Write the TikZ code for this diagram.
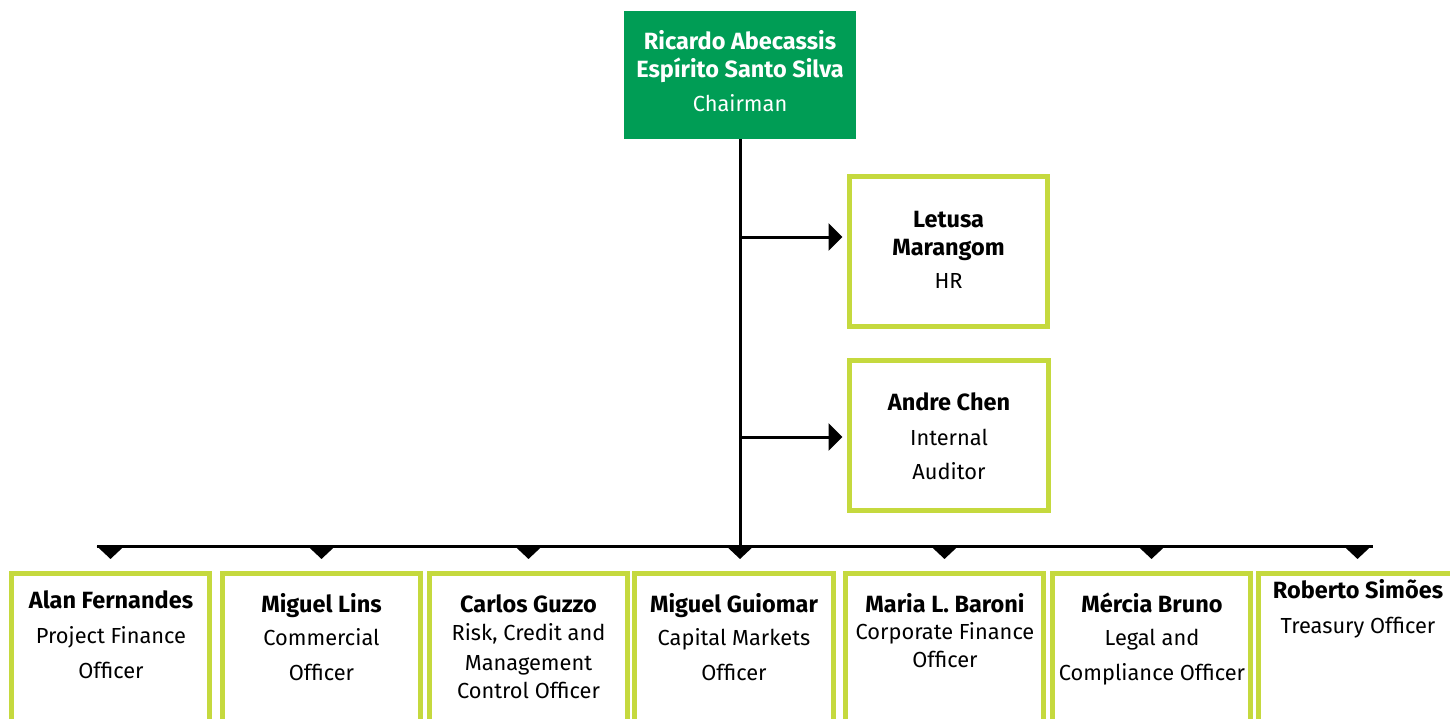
\documentclass[tikz,border=0pt]{standalone}
\usepackage{fontspec}
\setmainfont{Fira Sans}
\usetikzlibrary{arrows.meta}

\definecolor{chairgreen}{RGB}{0,157,85}
\definecolor{limeline}{RGB}{197,217,62}

\tikzset{
  chairbox/.style={fill=chairgreen, draw=none, minimum width=232pt, minimum height=128pt, inner sep=0pt},
  unitbox/.style={draw=limeline, line width=5pt, minimum width=198pt, minimum height=150pt, inner sep=0pt},
  deptbox/.style={draw=limeline, line width=5pt, minimum width=198pt, minimum height=200pt, inner sep=0pt, anchor=north},
  who/.style={anchor=base, inner sep=0pt, font=\fontsize{23.5}{27}\selectfont\bfseries},
  role/.style={anchor=base, inner sep=0pt, font=\fontsize{21.8}{26}\selectfont},
  link/.style={line width=3pt, black},
  sidearrow/.style={link, -{Triangle[length=14pt, width=27pt]}, shorten >=4.5pt},
  downarrow/.style={link, -{Triangle[length=13pt, width=27pt]}, shorten >=11.5pt},
}

\begin{document}
\begin{tikzpicture}[x=1pt, y=-1pt]
  \useasboundingbox (0,0) rectangle (1450,718);
  \clip (0,0) rectangle (1450,718);

  % chairman
  \node[chairbox] (chair) at (740,75) {};
  \node[who, text=white] (chairA) at (740,49) {Ricardo Abecassis};
  \node[who, text=white] (chairB) at (740,77) {Espírito Santo Silva};
  \node[role, text=white] (chairC) at (740,111) {Chairman};

  % staff units on the right
  \node[unitbox] (hr) at (948.5,251.5) {};
  \node[who] (hrA) at (948.5,227) {Letusa};
  \node[who] (hrB) at (948.5,255) {Marangom};
  \node[role] (hrC) at (948.5,288) {HR};

  \node[unitbox, minimum width=199pt] (audit) at (949,435.5) {};
  \node[who] (auditA) at (949,410) {Andre Chen};
  \node[role] (auditB) at (949,445) {Internal};
  \node[role] (auditC) at (949,479) {Auditor};

  % departments along the bottom
  \node[deptbox] (d1) at (110.5,570.5) {};
  \node[who] (d1a) at (111,608) {Alan Fernandes};
  \node[role] (d1b) at (111,643) {Project Finance};
  \node[role] (d1c) at (111,678) {Officer};

  \node[deptbox] (d2) at (321.5,570.5) {};
  \node[who] (d2a) at (321.5,612) {Miguel Lins};
  \node[role] (d2b) at (321.5,645) {Commercial};
  \node[role] (d2c) at (321.5,680) {Officer};

  \node[deptbox] (d3) at (528.5,570.5) {};
  \node[who] (d3a) at (528.5,612) {Carlos Guzzo};
  \node[role] (d3b) at (528.5,640) {Risk, Credit and};
  \node[role] (d3c) at (528.5,670) {Management};
  \node[role] (d3d) at (528.5,698) {Control Officer};

  \node[deptbox, minimum width=199pt] (d4) at (734,570.5) {};
  \node[who] (d4a) at (734,612) {Miguel Guiomar};
  \node[role] (d4b) at (734,645) {Capital Markets};
  \node[role] (d4c) at (734,680) {Officer};

  \node[deptbox] (d5) at (944.5,570.5) {};
  \node[who] (d5a) at (945,612) {Maria L. Baroni};
  \node[role] (d5b) at (945,639) {Corporate Finance};
  \node[role] (d5c) at (945,667) {Officer};

  \node[deptbox] (d6) at (1151.5,570.5) {};
  \node[who] (d6a) at (1152,612) {Mércia Bruno};
  \node[role] (d6b) at (1152,645) {Legal and};
  \node[role] (d6c) at (1152,680) {Compliance Officer};

  \node[deptbox] (d7) at (1357.5,570.5) {};
  \node[who] (d7a) at (1358,598) {Roberto Simões};
  \node[role] (d7b) at (1358,633) {Treasury Officer};

  % reporting lines
  \coordinate (tapHR) at (740,237);
  \coordinate (tapAudit) at (740,437);
  \coordinate (bus) at (740,546);
  \coordinate (busL) at (97,546);
  \coordinate (busR) at (1373,546);

  \draw[link] (chair.south) -- (bus);
  \draw[link] (busL) -- (busR);
  \draw[sidearrow] (tapHR) -- (tapHR -| hr.west);
  \draw[sidearrow] (tapAudit) -- (tapAudit -| audit.west);

  \foreach \d in {d1,d2,d3,d5,d6,d7}
    \draw[downarrow] (bus -| \d.north) -- (\d.north);
  \draw[downarrow] (bus) -- (bus |- d4.north);
\end{tikzpicture}
\end{document}
